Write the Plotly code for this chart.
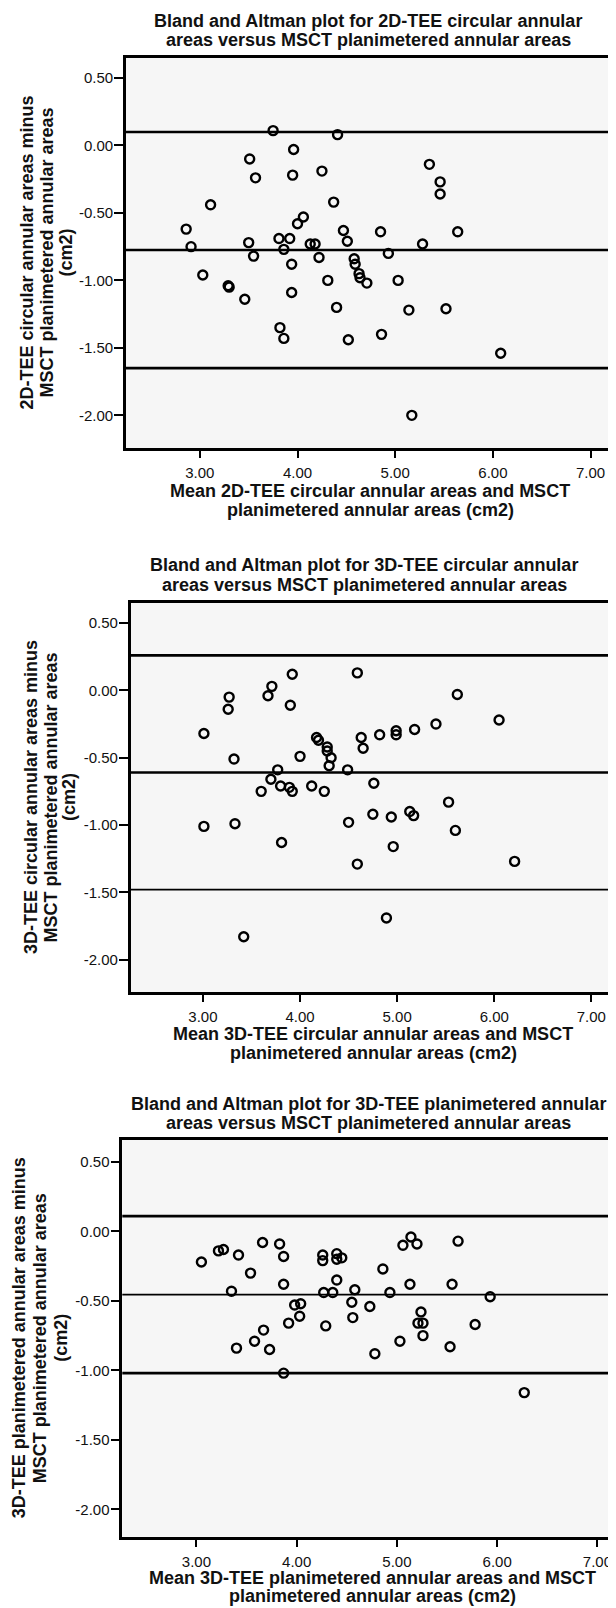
import plotly.graph_objects as go

W, H = 616, 1608

# ---------------- data ----------------
# Panel 1: 2D-TEE circular vs MSCT planimetered
p1_mean = [3.75, 4.41, 3.96, 3.51, 3.57, 3.95, 4.25, 5.35, 5.46, 5.46,
           3.11, 4.37, 4.06, 4.00, 2.86, 2.91, 4.47, 4.51, 4.85, 5.64,
           3.50, 3.55, 3.81, 3.92, 3.86, 4.13, 4.18, 4.22, 3.94, 5.28,
           4.93, 4.58, 4.59, 4.63, 4.64, 4.71, 3.03, 3.29, 3.30, 3.46,
           4.31, 5.03, 3.94, 4.40, 5.14, 5.52, 3.82, 3.86, 4.52, 4.86,
           6.08, 5.17]
p1_diff = [0.11, 0.08, -0.03, -0.10, -0.24, -0.22, -0.19, -0.14, -0.27, -0.36,
           -0.44, -0.42, -0.53, -0.58, -0.62, -0.75, -0.63, -0.71, -0.64, -0.64,
           -0.72, -0.82, -0.69, -0.69, -0.77, -0.73, -0.73, -0.83, -0.88, -0.73,
           -0.80, -0.84, -0.88, -0.95, -0.98, -1.02, -0.96, -1.04, -1.05, -1.14,
           -1.00, -1.00, -1.09, -1.20, -1.22, -1.21, -1.35, -1.43, -1.44, -1.40,
           -1.54, -2.00]
p1_lines = [0.10, -0.775, -1.65]

# Panel 2: 3D-TEE circular vs MSCT planimetered
p2_mean = [3.92, 4.59, 3.71, 3.67, 3.27, 3.26, 3.90, 5.62, 6.05, 3.01,
           5.40, 5.18, 4.99, 4.99, 4.82, 4.63, 4.65, 4.17, 4.19, 4.28,
           4.28, 4.32, 4.30, 4.00, 3.32, 4.49, 3.77, 3.70, 3.80, 3.60,
           3.89, 3.92, 4.12, 4.25, 4.76, 5.53, 4.75, 4.94, 5.13, 5.17,
           4.50, 3.01, 3.33, 5.60, 3.81, 4.96, 4.59, 6.21, 4.89, 3.42]
p2_diff = [0.12, 0.13, 0.03, -0.04, -0.05, -0.14, -0.11, -0.03, -0.22, -0.32,
           -0.25, -0.29, -0.30, -0.33, -0.33, -0.35, -0.43, -0.35, -0.37, -0.42,
           -0.45, -0.50, -0.56, -0.49, -0.51, -0.59, -0.59, -0.66, -0.71, -0.75,
           -0.72, -0.75, -0.71, -0.75, -0.69, -0.83, -0.92, -0.94, -0.90, -0.93,
           -0.98, -1.01, -0.99, -1.04, -1.13, -1.16, -1.29, -1.27, -1.69, -1.83]
p2_lines = [0.26, -0.61, -1.48]

# Panel 3: 3D-TEE planimetered vs MSCT planimetered
p3_mean = [3.05, 3.22, 3.27, 3.42, 3.66, 3.83, 3.87, 3.54, 3.87, 3.35,
           3.98, 4.04, 4.03, 3.92, 3.67, 3.58, 3.40, 3.73, 3.87, 4.26,
           4.26, 4.40, 4.40, 4.45, 4.40, 4.27, 4.36, 4.58, 4.55, 4.56,
           4.29, 4.73, 4.86, 4.93, 4.78, 5.06, 5.14, 5.20, 5.13, 5.03,
           5.24, 5.21, 5.26, 5.26, 5.55, 5.53, 5.61, 5.78, 5.93, 6.27]
p3_diff = [-0.22, -0.14, -0.13, -0.17, -0.08, -0.09, -0.18, -0.30, -0.38, -0.43,
           -0.53, -0.52, -0.61, -0.66, -0.71, -0.79, -0.84, -0.85, -1.02, -0.17,
           -0.21, -0.16, -0.20, -0.19, -0.35, -0.44, -0.44, -0.42, -0.51, -0.62,
           -0.68, -0.54, -0.27, -0.44, -0.88, -0.10, -0.04, -0.09, -0.38, -0.79,
           -0.58, -0.66, -0.66, -0.75, -0.38, -0.83, -0.07, -0.67, -0.47, -1.16]
p3_lines = [0.11, -0.455, -1.02]

y_ticks = [0.5, 0.0, -0.5, -1.0, -1.5, -2.0]
x_ticks = [3, 4, 5, 6, 7]

titles = [
    ["Bland and Altman plot for 2D-TEE circular annular",
     "areas versus MSCT planimetered annular areas"],
    ["Bland and Altman plot for 3D-TEE circular annular",
     "areas versus MSCT planimetered annular areas"],
    ["Bland and Altman plot for 3D-TEE planimetered annular",
     "areas versus MSCT planimetered annular areas"],
]
xtitles = [
    ["Mean 2D-TEE circular annular areas and MSCT",
     "planimetered annular areas (cm2)"],
    ["Mean 3D-TEE circular annular areas and MSCT",
     "planimetered annular areas (cm2)"],
    ["Mean 3D-TEE planimetered annular areas and MSCT",
     "planimetered annular areas (cm2)"],
]
ytitles = [
    ["2D-TEE circular annular areas minus",
     "MSCT planimetered annular areas", "(cm2)"],
    ["3D-TEE circular annular areas minus",
     "MSCT planimetered annular areas", "(cm2)"],
    ["3D-TEE planimetered annular areas minus",
     "MSCT planimetered annular areas", "(cm2)"],
]

# ---------------- layout geometry (pixels, target glyph centres) ----------------
panels = [
    dict(box=(118, 606, 50, 440), xr=[2.244, 7.24], yr=[-2.242, 0.648],
         title_y=(19, 38.5), title_x=360, xt_y=(489.5, 508.5), xt_x=362,
         yt_x=(25, 45, 64), lw=[2.6, 2.6, 2.6]),
    dict(box=(122.7, 607, 595, 984), xr=[2.256, 7.244], yr=[-2.24, 0.649],
         title_y=(564, 583.5), title_x=356, xt_y=(1032.5, 1051.5), xt_x=365,
         yt_x=(29, 48.5, 67), lw=[2.6, 2.6, 1.6]),
    dict(box=(114.3, 613.5, 1132, 1528.7), xr=[2.261, 7.24], yr=[-2.197, 0.658],
         title_y=(1102, 1121.5), title_x=360, xt_y=(1576.5, 1594.5), xt_x=364.5,
         yt_x=(17.5, 38.5, 60), lw=[2.6, 1.8, 2.6]),
]
data = [(p1_mean, p1_diff, p1_lines), (p2_mean, p2_diff, p2_lines),
        (p3_mean, p3_diff, p3_lines)]

FONT = "Liberation Sans, Arial, sans-serif"
BOLD_SIZE = 18
OFF = 6.5  # plotly renders annotation glyphs slightly "below" the anchor
fig = go.Figure()
annotations = []
shapes = []


def px(x):
    return x / W


def py(y):
    return 1 - y / H


for i, (pan, (mx, dy, lines)) in enumerate(zip(panels, data)):
    n = "" if i == 0 else str(i + 1)
    xa, ya = "x" + n, "y" + n
    l, r, t, b = pan["box"]
    axis_common = dict(showline=True, linecolor="black", linewidth=2.6,
                       mirror=True, ticks="outside", tickcolor="black",
                       tickwidth=2, showgrid=False, zeroline=False,
                       tickfont=dict(family=FONT, size=15, color="#111"))
    fig.update_layout(**{
        "xaxis" + n: dict(domain=[px(l), px(r)], range=pan["xr"],
                          anchor=ya, tickvals=x_ticks,
                          ticktext=[f"{v:.2f}" for v in x_ticks],
                          ticklen=7, ticklabelstandoff=2, **axis_common),
        "yaxis" + n: dict(domain=[py(b), py(t)], range=pan["yr"],
                          anchor=xa, tickvals=y_ticks,
                          ticktext=[f"{v:.2f}" for v in y_ticks],
                          ticklen=9, ticklabelstandoff=-2, **axis_common),
    })
    for v, w in zip(lines, pan["lw"]):
        shapes.append(dict(type="line", xref=xa + " domain", yref=ya,
                           x0=0, x1=1, y0=v, y1=v,
                           line=dict(color="black", width=w), layer="above"))
    fig.add_trace(go.Scatter(x=mx, y=dy, mode="markers", xaxis=xa, yaxis=ya,
                             marker=dict(symbol="circle-open", size=9,
                                         color="black",
                                         line=dict(width=2.4, color="black")),
                             showlegend=False, cliponaxis=False))
    for txt, yy in zip(titles[i], pan["title_y"]):
        annotations.append(dict(text="<b>" + txt + "</b>", x=px(pan["title_x"]),
                                y=py(yy - OFF), xref="paper", yref="paper",
                                xanchor="center", yanchor="middle",
                                showarrow=False, borderpad=0,
                                font=dict(family=FONT, size=BOLD_SIZE, color="#111")))
    for txt, yy in zip(xtitles[i], pan["xt_y"]):
        annotations.append(dict(text="<b>" + txt + "</b>", x=px(pan["xt_x"]),
                                y=py(yy - OFF), xref="paper", yref="paper",
                                xanchor="center", yanchor="middle",
                                showarrow=False, borderpad=0,
                                font=dict(family=FONT, size=BOLD_SIZE, color="#111")))
    for txt, xx in zip(ytitles[i], pan["yt_x"]):
        annotations.append(dict(text="<b>" + txt + "</b>", x=px(xx - OFF),
                                y=py((t + b) / 2), xref="paper", yref="paper",
                                xanchor="center", yanchor="middle",
                                textangle=-90, showarrow=False, borderpad=0,
                                font=dict(family=FONT, size=BOLD_SIZE, color="#111")))

fig.update_layout(width=W, height=H, margin=dict(l=0, r=0, t=0, b=0),
                  paper_bgcolor="white", plot_bgcolor="#f6f6f6",
                  annotations=annotations, shapes=shapes, showlegend=False)

fig.write_html("out.html")
